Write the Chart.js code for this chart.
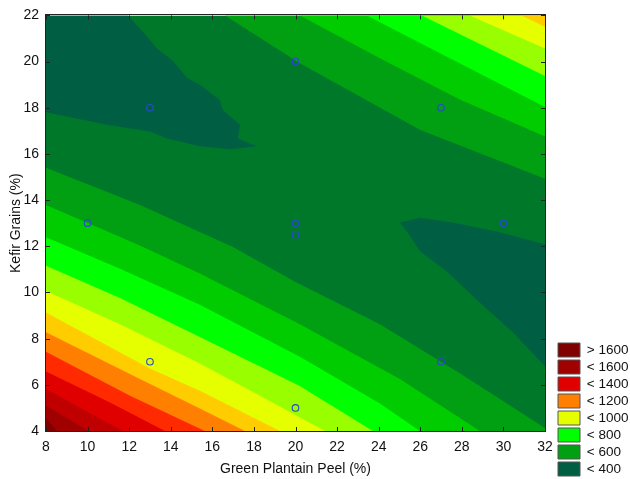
<!DOCTYPE html>
<html>
<head>
<meta charset="utf-8">
<script src="https://cdn.jsdelivr.net/npm/chart.js@4.4.1/dist/chart.umd.min.js"></script>
<style>
html,body{margin:0;padding:0;background:#ffffff;}
#wrap{width:630px;height:479px;position:relative;}
</style>
</head>
<body>
<div id="wrap"><canvas id="c"></canvas></div>
<script>
// ---- axis ticks ----
const xTicks = [8,10,12,14,16,18,20,22,24,26,28,30,32];
const yTicks = [4,6,8,10,12,14,16,18,20,22];

// ---- legend ----
const legendLabels = ['> 1600','< 1600','< 1400','< 1200','< 1000','< 800','< 600','< 400'];

// band colours: <400, 400-500, 500-600, ... , >1600 (100 steps)
const bandColors = ['#005f43','#00782a','#00a012','#00cc00','#00ff00','#99ff00','#e6ff00',
                    '#ffcc00','#ff8000','#ff2a00','#e00000','#c00000','#a00000','#800000'];
const legendBands = [13,12,10,8,6,4,2,0];

// ---- contour lines (x = peel %, y = kefir %) ----
// lower-left family (value rises toward bottom-left)
const low500  = [[8,15.40],[12.52,13.79],[16.99,11.97],[20.02,10.44],[24.06,8.62],[27.9,6.5],[32,4.13]];
const low600  = [[8,13.79],[12.38,12.09],[15.40,10.82],[20.21,8.62],[25.02,6.25],[28.87,4]];
const low700  = [[8,12.39],[11.56,11.03],[15.40,9.47],[20.21,7.22],[24.06,5.19],[25.98,4]];
const low800  = [[8,11.16],[11.56,9.76],[15.40,8.07],[20.21,5.95],[23.72,4]];
const low900  = [[8,10.06],[11.56,8.62],[15.40,6.92],[18.29,5.53],[21.41,4]];
const low1000 = [[8,9.13],[13.0,6.71],[15.40,5.74],[19.25,4]];
const low1100 = [[8,8.28],[12.52,6.25],[15.40,4.97],[17.57,4]];
const low1200 = [[8,7.43],[12.04,5.53],[15.64,4]];
const low1300 = [[8,6.58],[11.08,5.23],[13.72,4]];
const low1400 = [[8,5.82],[9.88,4.89],[11.70,4]];
const low1500 = [[8,5.10],[10.02,4]];
const low1600 = [[8,4.55],[8.53,4]];
// upper-right family (value rises toward top-right)
const up500  = [[16.61,22],[20.21,19.93],[25.98,17.05],[32,14.93]];
const up600  = [[20.21,22],[24.06,20.14],[27.9,18.36],[32,16.75]];
const up700  = [[23.43,22],[27.42,20.14],[32,18.03]];
const up800  = [[26.08,22],[29.11,20.65],[32,19.38]];
const up900  = [[28.38,22],[32,20.57]];
const up1000 = [[30.88,22],[32,21.5]];
// regions below 400
const blobTopLeft = [[8,22],[11.94,22],[12.66,21.29],[13.34,20.57],[14.11,20.02],[14.78,19.30],[15.40,19.0],
  [16.37,18.32],[16.51,17.90],[17.33,17.26],[17.23,16.67],[18.14,16.33],[16.85,16.20],[15.40,16.33],
  [13.82,16.67],[13.0,16.97],[10.93,17.26],[8,17.81]];
const blobRight = [[25.02,13.03],[25.98,13.24],[27.57,13.03],[29.68,12.64],[32,12.09],[32,6.80],
  [30.45,8.28],[28.87,9.55],[27.28,10.91],[25.98,11.80],[25.36,12.64]];

// ---- design points ----
const designX = [13,20,27,10,20,20,30,13,20,27];
const designY = [18,20,18,13,13,12.5,13,7,5,7];

const X_MIN = 8, X_MAX = 32, Y_MIN = 4, Y_MAX = 22;
const FONT = '"Liberation Sans", Arial, Helvetica, sans-serif';

// build polygons in painting order (first = bottom)
const lowLines = [low500,low600,low700,low800,low900,low1000,low1100,low1200,low1300,low1400,low1500,low1600];
const upLines = [up500,up600,up700,up800,up900,up1000];
const polys = [];
polys.push({pts:[[X_MIN,Y_MIN],[X_MAX,Y_MIN],[X_MAX,Y_MAX],[X_MIN,Y_MAX]], color:bandColors[1]});
upLines.forEach((line,i)=>{
  polys.push({pts: line.concat([[X_MAX,Y_MAX]]), color: bandColors[i+2]});
});
lowLines.forEach((line,i)=>{
  const pts = line.slice();
  const last = pts[pts.length-1];
  if (last[1] > Y_MIN) pts.push([X_MAX,Y_MIN]);
  pts.push([X_MIN,Y_MIN]);
  polys.push({pts, color: bandColors[i+2]});
});
polys.push({pts: blobTopLeft, color: bandColors[0]});
polys.push({pts: blobRight, color: bandColors[0]});

const datasets = polys.map((p,i)=>({
  data: p.pts.map(([x,y])=>({x,y})),
  showLine: true,
  fill: 'shape',
  backgroundColor: p.color,
  borderColor: p.color,
  borderWidth: 0,
  pointRadius: 0,
  pointHoverRadius: 0,
  tension: 0,
  order: polys.length - i + 1
}));
datasets.push({
  data: designX.map((x,i)=>({x, y: designY[i]})),
  showLine: false,
  pointRadius: 3.3,
  pointHoverRadius: 3.3,
  pointBorderWidth: 1.1,
  pointBorderColor: '#2a48d0',
  pointBackgroundColor: 'rgba(0,0,0,0)',
  order: 0
});

const frameTicks = {
  id: 'frameTicks',
  afterDatasetsDraw(chart){
    const {ctx, chartArea:a, scales:{x,y}} = chart;
    ctx.save();
    ctx.strokeStyle = '#222';
    ctx.lineWidth = 1;
    ctx.beginPath();
    xTicks.forEach(v=>{
      const px = Math.round(x.getPixelForValue(v)) + 0.5;
      ctx.moveTo(px, a.bottom); ctx.lineTo(px, a.bottom-4);
      ctx.moveTo(px, a.top); ctx.lineTo(px, a.top+4);
    });
    yTicks.forEach(v=>{
      const py = Math.round(y.getPixelForValue(v)) + 0.5;
      ctx.moveTo(a.left, py); ctx.lineTo(a.left+4, py);
      ctx.moveTo(a.right, py); ctx.lineTo(a.right-4, py);
    });
    ctx.stroke();
    ctx.strokeRect(Math.round(a.left)-0.5, Math.round(a.top)-0.5, Math.round(a.right-a.left)+1, Math.round(a.bottom-a.top)+1);
    ctx.restore();
  }
};

new Chart(document.getElementById('c'), {
  type: 'scatter',
  data: { datasets },
  options: {
    responsive: true,
    maintainAspectRatio: false,
    animation: false,
    events: [],
    layout: { padding: { top: 6, left: 0, right: 0, bottom: 0 } },
    scales: {
      x: {
        type: 'linear', min: X_MIN, max: X_MAX,
        afterBuildTicks: s => { s.ticks = xTicks.map(v=>({value:v})); },
        ticks: { font:{size:14, family:FONT}, color:'#111', padding:8, maxRotation:0, autoSkip:false },
        grid: { display:false, drawTicks:false, tickLength:0 },
        border: { display:false },
        title: { display:true, text:'Green Plantain Peel (%)', font:{size:14, family:FONT}, color:'#111', padding:{top:0,bottom:1} },
        afterFit: s => { s.height = 48; }
      },
      y: {
        type: 'linear', min: Y_MIN, max: Y_MAX, position: 'left',
        afterBuildTicks: s => { s.ticks = yTicks.map(v=>({value:v})); },
        ticks: { font:{size:14, family:FONT}, color:'#111', padding:7, autoSkip:false },
        grid: { display:false, drawTicks:false, tickLength:0 },
        border: { display:false },
        title: { display:true, text:'Kefir Grains (%)', font:{size:14, family:FONT}, color:'#111', padding:{top:8,bottom:0} },
        afterFit: s => { s.width = 46; }
      },
      y2: {
        type: 'linear', min: Y_MIN, max: Y_MAX, position: 'right', display: true,
        ticks: { display:false },
        grid: { display:false, drawTicks:false, tickLength:0 },
        border: { display:false },
        afterFit: s => { s.width = 10; }
      }
    },
    plugins: {
      tooltip: { enabled:false },
      filler: { propagate:false },
      legend: {
        display: true,
        position: 'right',
        align: 'end',
        maxWidth: 75,
        onClick: null,
        labels: {
          boxWidth: 22,
          boxHeight: 14,
          padding: 3,
          font: { size:13.5, family:FONT },
          color: '#111',
          generateLabels: () => legendLabels.map((t,i)=>({
            text: t,
            fillStyle: bandColors[legendBands[i]],
            strokeStyle: '#555',
            lineWidth: 1,
            hidden: false,
            index: i,
            fontColor: '#111'
          }))
        }
      }
    }
  },
  plugins: [frameTicks]
});
</script>
</body>
</html>
